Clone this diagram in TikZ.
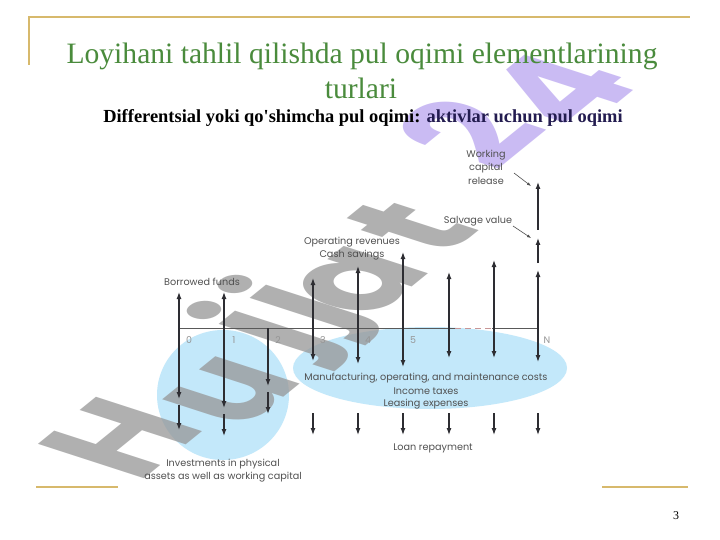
\documentclass[tikz,border=0pt]{standalone}
\usepackage{fontspec}
\setmainfont{Liberation Serif}
\newfontfamily\subfont{Liberation Serif}[Ligatures=TeXOff]
\newfontfamily\lblfont{Poppins}
\newfontfamily\wmfont{Poppins}
\usetikzlibrary{arrows.meta}
\definecolor{titlegreen}{RGB}{74,139,60}
\definecolor{gold}{RGB}{215,185,108}
\definecolor{subnavy}{RGB}{35,28,80}
\definecolor{ellblue}{RGB}{195,232,250}
\definecolor{wmgray}{RGB}{150,150,150}
\definecolor{wmpurple}{RGB}{185,165,240}
\definecolor{arrowc}{RGB}{45,45,50}
\definecolor{lblc}{RGB}{80,80,80}
\definecolor{numc}{RGB}{150,150,150}
\definecolor{dashc}{RGB}{200,150,150}
\begin{document}
\begin{tikzpicture}[x=1bp,y=-1bp,
  flow/.style={draw=arrowc, line width=1.2bp, -{Latex[length=7bp,width=5bp]}},
  flowboth/.style={draw=arrowc, line width=1.2bp, {Latex[length=7bp,width=5bp]}-{Latex[length=7bp,width=5bp]}},
  lbl/.style={font=\lblfont\fontsize{9.7}{10}\selectfont, text=lblc, inner sep=0pt},
  num/.style={font=\lblfont\fontsize{9.5}{10}\selectfont, text=numc, inner sep=0pt},
  pointer/.style={draw=lblc, line width=0.6bp, -{Latex[length=4bp,width=3bp]}},
  goldline/.style={draw=gold, line width=1.8bp},
  axisline/.style={draw=black!65, line width=0.8bp},
  wmletter/.style={font=\wmfont\bfseries\fontsize{92}{92}\selectfont, text opacity=0.75, transform shape, inner sep=0pt},
]
\useasboundingbox (0,0) rectangle (720,540);
\fill[white] (0,0) rectangle (720,540);

% decorative gold rules
\coordinate (g1) at (29,65); \coordinate (g2) at (29,17); \coordinate (g3) at (690,17);
\draw[goldline] (g1) -- (g2) -- (g3);
\coordinate (bl1) at (36,487); \coordinate (bl2) at (118,487);
\coordinate (br1) at (602,487); \coordinate (br2) at (688,487);
\draw[goldline] (bl1) -- (bl2);
\draw[goldline] (br1) -- (br2);

% blue highlight ellipses
\fill[ellblue] (430,368) ellipse [x radius=137bp, y radius=41bp];
\fill[ellblue] (223,395) ellipse [x radius=66bp, y radius=65bp];

% watermark, one letter at a time
\foreach \ch/\px/\py/\col in {H/120/438/wmgray, u/232/392/wmgray, j/271/332/wmgray, j/302/306/wmgray,
                              a/360/282/wmgray, t/410/227/wmgray, 2/467/132/wmpurple, 4/558/90/wmpurple}{
  \begin{scope}[shift={(\px,\py)}, xscale=1.95, rotate=57.7]
    \node[wmletter, text=\col] at (0,0) {\ch};
  \end{scope}
}

% titles
\node[anchor=base, font=\fontsize{29.7}{35}\selectfont, text=titlegreen, inner sep=0pt] (title1) at (362,64) {Loyihani tahlil qilishda pul oqimi elementlarining};
\node[anchor=base, font=\fontsize{29.7}{35}\selectfont, text=titlegreen, inner sep=0pt] (title2) at (361,99) {turlari};
\node[anchor=base, font=\subfont\bfseries\fontsize{18.5}{20}\selectfont, inner sep=0pt] (sub) at (363,123) {Differentsial yoki qo'shimcha pul oqimi: \textcolor{subnavy}{aktivlar uchun pul oqimi}};

% time axis
\coordinate (ax0) at (179,328); \coordinate (dsA) at (455,328);
\coordinate (dsB) at (492,328); \coordinate (axN) at (538,328);
\draw[axisline] (ax0) -- (dsA);
\draw[draw=dashc, line width=0.8bp, dash pattern=on 6bp off 4bp] (dsA) -- (dsB);
\draw[axisline] (dsB) -- (axN);

\foreach \n/\x in {0/189,1/234,2/278,3/323,4/368,5/413,N/547}
  \node[num] (lab\n) at (\x,340) {\n};

% period 0,1,2 flows
\coordinate (p0t) at (179,292); \coordinate (p0b) at (179,399);
\coordinate (p0c) at (179,405); \coordinate (p0d) at (179,430);
\draw[flowboth] (p0b) -- (p0t);
\draw[flow] (p0c) -- (p0d);
\coordinate (p1t) at (224,292); \coordinate (p1b) at (224,408);
\coordinate (p1c) at (224,414); \coordinate (p1d) at (224,436);
\draw[flowboth] (p1b) -- (p1t);
\draw[flow] (p1c) -- (p1d);
\coordinate (p2a) at (268,328); \coordinate (p2b) at (268,386);
\coordinate (p2c) at (268,392); \coordinate (p2d) at (268,414);
\draw[flow] (p2a) -- (p2b);
\draw[flow] (p2c) -- (p2d);

% operating periods
\foreach \i/\x/\t/\b in {3/313/278/361, 4/358/266/364, 5/403/252/367, 6/449/272/358, 7/494/260/358, 8/538/270/362}{
  \coordinate (u\i) at (\x,\t);
  \coordinate (d\i) at (\x,\b);
  \draw[flowboth] (d\i) -- (u\i);
  \coordinate (la\i) at (\x,413);
  \coordinate (lb\i) at (\x,435);
  \draw[flow] (la\i) -- (lb\i);
}
% final period extras
\coordinate (sv0) at (538,263); \coordinate (sv1) at (538,238);
\coordinate (wc0) at (538,230); \coordinate (wc1) at (538,182);
\draw[flow] (sv0) -- (sv1);
\draw[flow] (wc0) -- (wc1);

% labels
\node[lbl, anchor=west] (borrow) at (164,282) {Borrowed funds};
\node[lbl] (oprev) at (352,242) {Operating revenues};
\node[lbl] (cash) at (352,255) {Cash savings};
\node[lbl] (wc1t) at (486,155) {Working};
\node[lbl] (wc2t) at (486,168) {capital};
\node[lbl] (wc3t) at (486,181) {release};
\node[lbl] (salv) at (478,221) {Salvage value};
\node[lbl] (mfg) at (426,378) {Manufacturing, operating, and maintenance costs};
\node[lbl] (tax) at (426,391) {Income taxes};
\node[lbl] (lease) at (426,404) {Leasing expenses};
\node[lbl] (loan) at (433,448) {Loan repayment};
\node[lbl] (inv1) at (223,464) {Investments in physical};
\node[lbl] (inv2) at (223,477) {assets as well as working capital};

\coordinate (pw0) at (514,173); \coordinate (pw1) at (531,186);
\coordinate (ps0) at (513,226); \coordinate (ps1) at (531,238);
\draw[pointer] (pw0) -- (pw1);
\draw[pointer] (ps0) -- (ps1);

\node[font=\fontsize{12}{12}\selectfont, inner sep=0pt] (pagenum) at (676,516) {3};
\end{tikzpicture}
\end{document}
